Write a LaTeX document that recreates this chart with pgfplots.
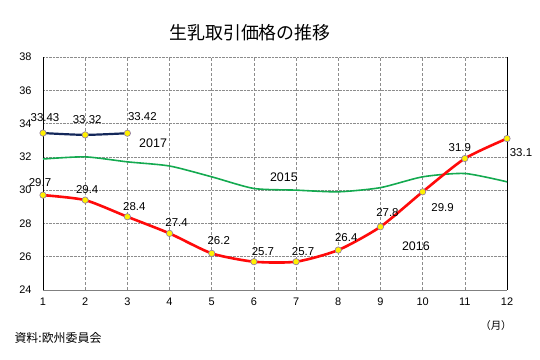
\documentclass[border=0pt]{standalone}
\usepackage{pgfplots}
\pgfplotsset{compat=1.18}
\usepackage{fontspec}
\setmainfont{Liberation Sans}
\newfontfamily\cjk{Noto Sans CJK JP}
\definecolor{navyline}{RGB}{20,40,90}
\definecolor{redline}{RGB}{255,10,10}
\definecolor{greenline}{RGB}{20,170,80}
\definecolor{mkedge}{RGB}{140,120,170}
\definecolor{mkfill}{RGB}{255,240,0}
\begin{document}
\begin{tikzpicture}
\useasboundingbox (0,0) rectangle (540bp,360bp);
\node[font=\cjk\fontsize{18}{20}\selectfont] at (250bp,327bp) {生乳取引価格の推移};
\node[font=\cjk\fontsize{12}{14}\selectfont, anchor=west] at (11bp,22bp) {資料:欧州委員会};
\node[font=\cjk\fontsize{10.5}{12}\selectfont] at (496bp,34bp) {（月）};
\begin{axis}[
  at={(43bp,70bp)}, anchor=south west,
  scale only axis, width=464bp, height=233bp,
  xmin=1, xmax=12, ymin=24, ymax=38,
  xtick={1,...,12}, ytick={24,26,...,38},
  axis line style={draw=none},
  tick style={draw=none},
  xmajorgrids, ymajorgrids,
  x grid style={gray!90, densely dashed, line width=0.6bp},
  y grid style={gray!90, densely dotted, line width=0.6bp},
  /pgf/number format/assume math mode=true,
  ticklabel style={font=\fontsize{11}{13}\selectfont},
  yticklabel style={anchor=east, xshift=-8bp},
  xticklabel style={anchor=center, yshift=-12bp},
  clip=false,
]
\draw[black, line width=0.8bp] (rel axis cs:0,0) -- (rel axis cs:0,1);
\draw[black, line width=0.8bp] (rel axis cs:1,0) -- (rel axis cs:1,1);
\draw[gray, line width=0.8bp] (rel axis cs:0,0) -- (rel axis cs:1,0);

\addplot[greenline, line width=1.6bp, smooth, tension=0.4, no markers] coordinates {
 (1,31.87) (2,32.0) (3,31.7) (4,31.45) (5,30.8) (6,30.1) (7,30.0) (8,29.9) (9,30.15) (10,30.8) (11,31.0) (12,30.5)};
\addplot[redline, line width=2.6bp, smooth, tension=0.4, mark=*, mark size=3.2bp,
  mark options={fill=mkfill, draw=mkedge, line width=0.6bp}] coordinates {
 (1,29.7) (2,29.4) (3,28.4) (4,27.4) (5,26.2) (6,25.7) (7,25.7) (8,26.4) (9,27.8) (10,29.9) (11,31.9) (12,33.1)};
\addplot[navyline, line width=2.2bp, smooth, tension=0.4, mark=*, mark size=3.2bp,
  mark options={fill=mkfill, draw=mkedge, line width=0.6bp}] coordinates {
 (1,33.43) (2,33.32) (3,33.42)};

\tikzset{dl/.style={font=\fontsize{11.5}{13}\selectfont, inner sep=0pt}}
\node[dl] at (axis cs:1,33.43) [xshift=2bp, yshift=16bp] {33.43};
\node[dl] at (axis cs:2,33.32) [xshift=2bp, yshift=15bp] {33.32};
\node[dl] at (axis cs:3,33.42) [xshift=15bp, yshift=17bp] {33.42};
\node[dl] at (axis cs:1,29.7) [xshift=-3bp, yshift=13bp] {29.7};
\node[dl] at (axis cs:2,29.4) [xshift=2bp, yshift=11bp] {29.4};
\node[dl] at (axis cs:3,28.4) [xshift=7bp, yshift=10bp] {28.4};
\node[dl] at (axis cs:4,27.4) [xshift=7bp, yshift=11bp] {27.4};
\node[dl] at (axis cs:5,26.2) [xshift=7bp, yshift=13bp] {26.2};
\node[dl] at (axis cs:6,25.7) [xshift=9bp, yshift=10bp] {25.7};
\node[dl] at (axis cs:7,25.7) [xshift=7bp, yshift=10bp] {25.7};
\node[dl] at (axis cs:8,26.4) [xshift=8bp, yshift=13bp] {26.4};
\node[dl] at (axis cs:9,27.8) [xshift=7bp, yshift=14bp] {27.8};
\node[dl] at (axis cs:10,29.9) [xshift=20bp, yshift=-16bp] {29.9};
\node[dl] at (axis cs:11,31.9) [xshift=-5bp, yshift=11bp] {31.9};
\node[dl] at (axis cs:12,33.1) [xshift=14bp, yshift=-14bp] {33.1};
\tikzset{sl/.style={font=\fontsize{12.5}{14}\selectfont, inner sep=0pt}}
\node[sl] at (axis cs:3.61,32.83) {2017};
\node[sl] at (axis cs:6.71,30.79) {2015};
\node[sl] at (axis cs:9.84,26.66) {2016};
\end{axis}
\end{tikzpicture}
\end{document}
